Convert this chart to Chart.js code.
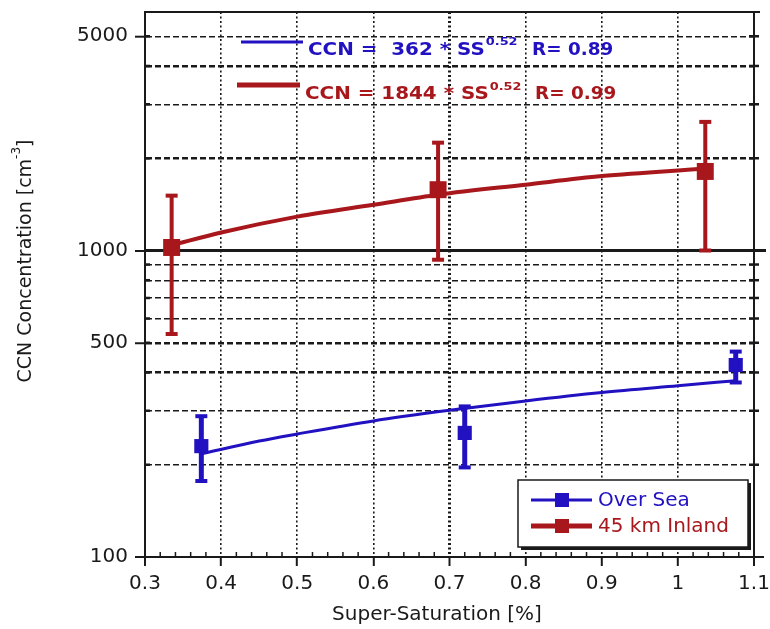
<!DOCTYPE html>
<html>
<head>
<meta charset="utf-8">
<script src="https://cdn.jsdelivr.net/npm/chart.js@4/dist/chart.umd.min.js"></script>
<style>
  body { margin: 0; background: #fff; }
  #wrap { width: 770px; height: 629px; }
</style>
</head>
<body>
<div id="wrap"><canvas id="c"></canvas></div>
<script>
// Over Sea measurements (super-saturation %, CCN cm-3, error bar ends)
const seaSS = [0.374, 0.720, 1.076];
const seaCCN = [230, 254, 423];
const seaLow = [177, 196, 371];
const seaHigh = [288, 310, 468];

// 45 km Inland measurements
const inlandSS = [0.335, 0.685, 1.036];
const inlandCCN = [1023, 1579, 1811];
const inlandLow = [534, 933, 1000];
const inlandHigh = [1510, 2248, 2628];

// fitted curves
const seaFitSS = [0.374, 0.45, 0.5, 0.6, 0.7, 0.8, 0.9, 1.0, 1.076];
const seaFitCCN = [217, 239, 252, 278, 301, 323, 344, 362, 376];
const inlandFitSS = [0.335, 0.4, 0.5, 0.6, 0.685, 0.8, 0.9, 1.036];
const inlandFitCCN = [1040, 1145, 1290, 1410, 1520, 1640, 1749, 1850];

// axis ticks
const yGridValues = [100, 200, 300, 400, 500, 600, 700, 800, 900, 1000, 2000, 3000, 4000, 5000];
const yLabelValues = [100, 500, 1000, 5000];
const yThickLines = [400, 500, 2000, 4000];

const BLUE = '#2111c0';
const RED = '#a8171c';
const INK = '#1a1a1a';

Chart.defaults.font.family = "'DejaVu Sans', sans-serif";
Chart.defaults.color = INK;

const pts = (xs, ys) => xs.map((x, i) => ({ x: x, y: ys[i] }));
const isMajorX = v => Math.abs(v * 10 - Math.round(v * 10)) < 1e-6;

// draw text stretched horizontally
function stretchText(ctx, text, x, y, font, color, sx) {
  ctx.save();
  ctx.font = font;
  ctx.fillStyle = color;
  ctx.textBaseline = 'alphabetic';
  ctx.textAlign = 'left';
  ctx.translate(x, y);
  ctx.scale(sx, 1);
  ctx.fillText(text, 0, 0);
  const w = ctx.measureText(text).width * sx;
  ctx.restore();
  return w;
}

function line(ctx, x1, y1, x2, y2, w, color) {
  ctx.save();
  ctx.lineWidth = w;
  ctx.strokeStyle = color;
  ctx.beginPath();
  ctx.moveTo(x1, y1);
  ctx.lineTo(x2, y2);
  ctx.stroke();
  ctx.restore();
}

// error bars for datasets carrying errLow / errHigh
const errorBars = {
  id: 'errorBars',
  afterDatasetsDraw(chart) {
    const ctx = chart.ctx;
    const ys = chart.scales.y;
    chart.data.datasets.forEach((ds, di) => {
      if (!ds.errLow) return;
      const meta = chart.getDatasetMeta(di);
      meta.data.forEach((pt, i) => {
        const top = ys.getPixelForValue(ds.errHigh[i]);
        const bot = ys.getPixelForValue(ds.errLow[i]);
        line(ctx, pt.x, top, pt.x, bot, ds.errWidth, ds.borderColor);
        line(ctx, pt.x - 6, top, pt.x + 6, top, 4, ds.borderColor);
        line(ctx, pt.x - 6, bot, pt.x + 6, bot, 4, ds.borderColor);
      });
    });
  }
};

// frame, 1000 line, extra tick marks
const frame = {
  id: 'frame',
  beforeDatasetsDraw(chart) {
    const ctx = chart.ctx;
    const a = chart.chartArea;
    const y1000 = chart.scales.y.getPixelForValue(1000);
    line(ctx, a.left, y1000, a.right + 12, y1000, 3, INK);
  },
  afterDatasetsDraw(chart) {
    const ctx = chart.ctx;
    const a = chart.chartArea;
    const ys = chart.scales.y;
    const xs = chart.scales.x;
    line(ctx, a.left - 1, a.top, a.right + 6, a.top, 2, INK);
    line(ctx, a.right, a.top, a.right, a.bottom + 8, 2, INK);
    line(ctx, a.right, a.bottom, a.right + 10, a.bottom, 2, INK);
    yGridValues.forEach(v => {
      if (v === 100) return;
      const y = ys.getPixelForValue(v);
      const big = v === 1000;
      line(ctx, a.right - (big ? 10 : 5), y, a.right + (big ? 12 : 5), y, 2.5, INK);
      line(ctx, a.left, y, a.left + 5, y, 2.5, INK);
    });
    xs.ticks.forEach(t => {
      if (isMajorX(t.value)) return;
      const x = xs.getPixelForValue(t.value);
      line(ctx, x, a.bottom, x, a.bottom - 5, 1.5, INK);
    });
  }
};

// fit equations, legend box and axis titles
const labels = {
  id: 'labels',
  afterDraw(chart) {
    const ctx = chart.ctx;
    const a = chart.chartArea;
    const bold = "bold 17px 'DejaVu Sans'";
    const sup = "bold 11px 'DejaVu Sans'";

    // equations
    line(ctx, 241, 42, 303, 42, 3, BLUE);
    let w = stretchText(ctx, 'CCN =  362 * SS', 308, 55, bold, BLUE, 1.17);
    stretchText(ctx, '0.52', 308 + w + 1, 45, sup, BLUE, 1.17);
    stretchText(ctx, 'R= 0.89', 532, 55, bold, BLUE, 1.08);

    line(ctx, 237, 85, 300, 85, 5, RED);
    w = stretchText(ctx, 'CCN = 1844 * SS', 305, 99, bold, RED, 1.17);
    stretchText(ctx, '0.52', 305 + w + 1, 90, sup, RED, 1.17);
    stretchText(ctx, 'R= 0.99', 535, 99, bold, RED, 1.08);

    // legend box
    const bx = a.right - 236, by = a.bottom - 77, bw = 230, bh = 67;
    ctx.save();
    ctx.fillStyle = INK;
    ctx.fillRect(bx + 3, by + 3, bw, bh);
    ctx.fillStyle = '#fff';
    ctx.fillRect(bx, by, bw, bh);
    ctx.lineWidth = 1.5;
    ctx.strokeStyle = INK;
    ctx.strokeRect(bx, by, bw, bh);
    ctx.restore();
    const rows = [
      { text: 'Over Sea', color: BLUE, lw: 3, y: by + 20 },
      { text: '45 km Inland', color: RED, lw: 5, y: by + 46 }
    ];
    rows.forEach(r => {
      line(ctx, bx + 13, r.y, bx + 74, r.y, r.lw, r.color);
      ctx.fillStyle = r.color;
      ctx.fillRect(bx + 37, r.y - 7, 14, 14);
      ctx.save();
      ctx.font = "20px 'DejaVu Sans'";
      ctx.textBaseline = 'middle';
      ctx.fillText(r.text, bx + 80, r.y + 1);
      ctx.restore();
    });

    // x title
    ctx.save();
    ctx.font = "20px 'DejaVu Sans'";
    ctx.fillStyle = INK;
    ctx.textAlign = 'center';
    ctx.textBaseline = 'middle';
    ctx.fillText('Super-Saturation [%]', 437, 615);
    ctx.restore();

    // y title with superscript
    ctx.save();
    ctx.translate(26, 261);
    ctx.rotate(-Math.PI / 2);
    ctx.fillStyle = INK;
    ctx.textBaseline = 'middle';
    const mainF = "19px 'DejaVu Sans'", supF = "12px 'DejaVu Sans'";
    ctx.font = mainF;
    const t1 = 'CCN Concentration [cm', t3 = ']';
    const w1 = ctx.measureText(t1).width, w3 = ctx.measureText(t3).width;
    ctx.font = supF;
    const w2 = ctx.measureText('-3').width;
    const x = -(w1 + w2 + w3) / 2;
    ctx.font = mainF;
    ctx.fillText(t1, x, 0);
    ctx.font = supF;
    ctx.fillText('-3', x + w1, -9);
    ctx.font = mainF;
    ctx.fillText(t3, x + w1 + w2, 0);
    ctx.restore();
  }
};

new Chart(document.getElementById('c'), {
  type: 'scatter',
  data: {
    datasets: [
      {
        label: 'Over Sea fit',
        data: pts(seaFitSS, seaFitCCN),
        showLine: true,
        cubicInterpolationMode: 'monotone',
        borderColor: BLUE,
        borderWidth: 3,
        pointRadius: 0
      },
      {
        label: '45 km Inland fit',
        data: pts(inlandFitSS, inlandFitCCN),
        showLine: true,
        cubicInterpolationMode: 'monotone',
        borderColor: RED,
        borderWidth: 4,
        pointRadius: 0
      },
      {
        label: 'Over Sea',
        data: pts(seaSS, seaCCN),
        pointStyle: 'rect',
        pointRadius: 10,
        backgroundColor: BLUE,
        borderColor: BLUE,
        borderWidth: 0,
        errLow: seaLow,
        errHigh: seaHigh,
        errWidth: 5
      },
      {
        label: '45 km Inland',
        data: pts(inlandSS, inlandCCN),
        pointStyle: 'rect',
        pointRadius: 12,
        backgroundColor: RED,
        borderColor: RED,
        borderWidth: 0,
        errLow: inlandLow,
        errHigh: inlandHigh,
        errWidth: 4
      }
    ]
  },
  options: {
    responsive: true,
    maintainAspectRatio: false,
    animation: false,
    layout: { padding: { left: 10, top: 9, right: 16, bottom: 10 } },
    plugins: {
      legend: { display: false },
      tooltip: { enabled: false }
    },
    scales: {
      x: {
        type: 'linear',
        min: 0.3,
        max: 1.1,
        afterFit: s => { s.height = 62; s.paddingLeft = 0; s.paddingRight = 0; },
        ticks: {
          stepSize: 0.02,
          autoSkip: false,
          maxRotation: 0,
          padding: 6,
          font: { size: 20 },
          color: INK,
          callback: v => isMajorX(v) ? String(Math.round(v * 10) / 10) : ''
        },
        grid: {
          color: INK,
          lineWidth: c => {
            const v = c.tick ? c.tick.value : 0;
            if (!isMajorX(v) || v < 0.35 || v > 1.05) return 0;
            return Math.abs(v - 0.7) < 1e-6 ? 3 : 1.6;
          },
          tickLength: 9,
          tickWidth: 2,
          tickColor: c => (c.tick && isMajorX(c.tick.value)) ? INK : 'rgba(0,0,0,0)'
        },
        border: { color: INK, width: 2, dash: [2, 2.5] }
      },
      y: {
        type: 'logarithmic',
        min: 100,
        max: 6000,
        afterBuildTicks: s => { s.ticks = yGridValues.map(v => ({ value: v })); },
        afterFit: s => { s.width = 135; s.paddingTop = 0; s.paddingBottom = 0; },
        ticks: {
          autoSkip: false,
          padding: 7,
          font: { size: 20 },
          color: INK,
          callback: v => yLabelValues.includes(v) ? String(v) : ''
        },
        grid: {
          color: INK,
          lineWidth: c => {
            const v = c.tick ? c.tick.value : 0;
            if (v === 100 || v === 1000) return 0;
            return yThickLines.includes(v) ? 2.5 : 1.4;
          },
          tickLength: 10,
          tickWidth: 2,
          tickColor: c => (c.tick && yLabelValues.includes(c.tick.value)) ? INK : 'rgba(0,0,0,0)'
        },
        border: { color: INK, width: 2, dash: [6, 3] }
      }
    }
  },
  plugins: [frame, errorBars, labels]
});
</script>
</body>
</html>
